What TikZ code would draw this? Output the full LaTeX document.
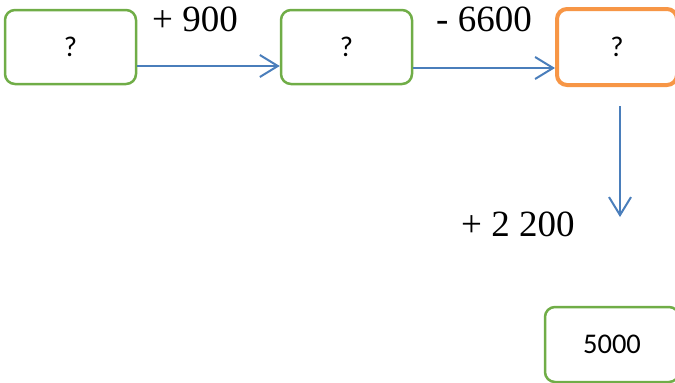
\documentclass[tikz,border=0pt]{standalone}
\usepackage{fontspec}
\setmainfont{Liberation Serif}
\newfontfamily\calibri{Carlito}
\usetikzlibrary{arrows.meta,calc}
\definecolor{boxgreen}{RGB}{112,173,71}
\definecolor{boxorange}{RGB}{247,150,70}
\definecolor{arrowblue}{RGB}{74,126,187}
\tikzset{
  qbox/.style={draw=boxgreen, line width=2.5pt, rounded corners=10pt, fill=white,
    inner sep=0pt, font=\calibri\fontsize{28.5}{30}\selectfont},
  obox/.style={qbox, draw=boxorange, line width=4pt},
  flow/.style={draw=arrowblue, line width=2pt,
    -{Straight Barb[length=18pt,width=22pt,line width=2pt]}},
  oplabel/.style={inner sep=0pt, anchor=base west, font=\fontsize{37}{40}\selectfont}
}
\begin{document}
\begin{tikzpicture}[x=1pt,y=-1pt]
\useasboundingbox (0,0) rectangle (675,383);
\clip (0,0) rectangle (675,383);
\node[qbox, minimum width=131pt, minimum height=74pt] (b1) at (70.5,47) {?};
\node[qbox, minimum width=131pt, minimum height=74pt] (b2) at (346.5,47) {?};
\node[obox, minimum width=120pt, minimum height=76pt] (b3) at (617,47) {?};
\node[qbox, minimum width=134pt, minimum height=75pt] (b4) at (612,344.5) {5000};
\node[oplabel] (l1) at (152,31) {+ 900};
\node[oplabel] (l2) at (436,31) {- 6600};
\node[oplabel] (l3) at (461,236) {+ 2 200};
\coordinate (vstart) at (620,106);
\coordinate (vend) at (620,217);
\draw[flow] ([yshift=-19pt]b1.east) -- ([yshift=-19pt]b2.west);
\draw[flow] ([yshift=-21pt]b2.east) -- ([yshift=-21pt]b3.west);
\draw[flow] (vstart) -- (vend);
\end{tikzpicture}
\end{document}
